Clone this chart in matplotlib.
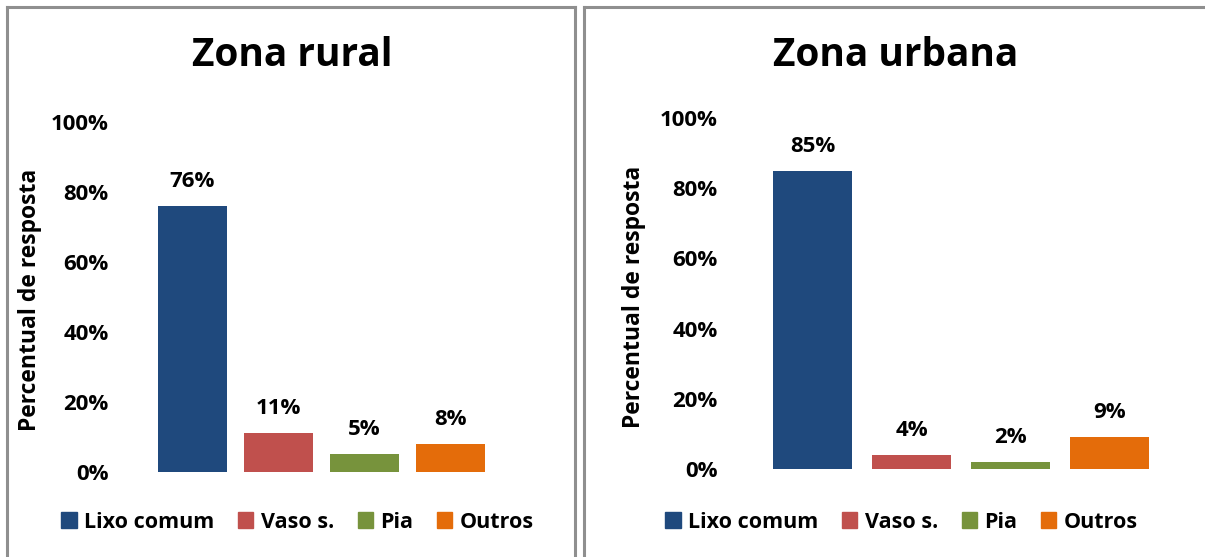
import numpy as np
import matplotlib.pyplot as plt
from matplotlib.lines import Line2D
from matplotlib.patches import Patch

plt.rcParams['font.family'] = ['Open Sans', 'DejaVu Sans']
plt.rcParams['font.weight'] = 'bold'

# data
categories = ['Lixo comum', 'Vaso s.', 'Pia', 'Outros']
rural = [76, 11, 5, 8]
urbana = [85, 4, 2, 9]
colors = ['#1F497D', '#C0504D', '#77933C', '#E46C0A']
yticks = [0, 20, 40, 60, 80, 100]

W, H = 1205, 557
fig = plt.figure(figsize=(W / 100, H / 100), dpi=100)


def fx(px):
    return px / W


def fy(py):
    return 1 - py / H


# panel borders
border = dict(color='#8f8f8f', lw=2.2, transform=fig.transFigure)
fig.add_artist(Line2D([fx(7), fx(7)], [fy(7), 0], **border))
fig.add_artist(Line2D([fx(7), fx(575)], [fy(7), fy(7)], **border))
fig.add_artist(Line2D([fx(575), fx(575)], [fy(7), 0], **border))
fig.add_artist(Line2D([fx(584), fx(584)], [fy(7), 0], **border))
fig.add_artist(Line2D([fx(584), 1], [fy(7), fy(7)], **border))


def draw(ax_px, values, title, title_x, tick_pad, ylab_x, leg_x):
    left, right, top, bottom = ax_px
    ax = fig.add_axes([fx(left), fy(bottom), (right - left) / W, (bottom - top) / H])
    x = np.arange(len(categories))
    ax.bar(x, values, width=0.8, color=colors)
    for xi, v in zip(x, values):
        ax.text(xi, v + 4, f'{v}%', ha='center', va='bottom', fontsize=16, fontweight='bold')
    ax.set_xlim(-0.5, 3.5)
    ax.set_ylim(0, 100)
    ax.set_yticks(yticks)
    ax.set_yticklabels([f'{t}%' for t in yticks], fontsize=16, fontweight='bold')
    ax.set_xticks([])
    ax.tick_params(axis='y', length=0, pad=tick_pad)
    for s in ax.spines.values():
        s.set_visible(False)
    ax.set_ylabel('Percentual de resposta', fontsize=16.5, fontweight='bold')
    ax.yaxis.set_label_coords(ylab_x, 0.49)
    fig.text(fx(title_x), fy(56), title, ha='center', va='center', fontsize=28, fontweight='bold')
    handles = [Patch(color=c, label=l) for c, l in zip(colors, categories)]
    ax.legend(handles=handles, loc='center', bbox_to_anchor=(fx(leg_x), fy(522)),
              bbox_transform=fig.transFigure, ncol=4, frameon=False,
              prop={'size': 15.5, 'weight': 'bold'}, handlelength=0.7, handleheight=0.7,
              handletextpad=0.35, columnspacing=1.1)
    return ax


draw((149.5, 493.5, 122, 471.7), rural, 'Zona rural', 292, 29.5, -0.312, 297.5)
draw((763, 1159, 118, 469), urbana, 'Zona urbana', 896, 32.5, -0.295, 901.5)

fig.savefig('out.png', dpi=100)
